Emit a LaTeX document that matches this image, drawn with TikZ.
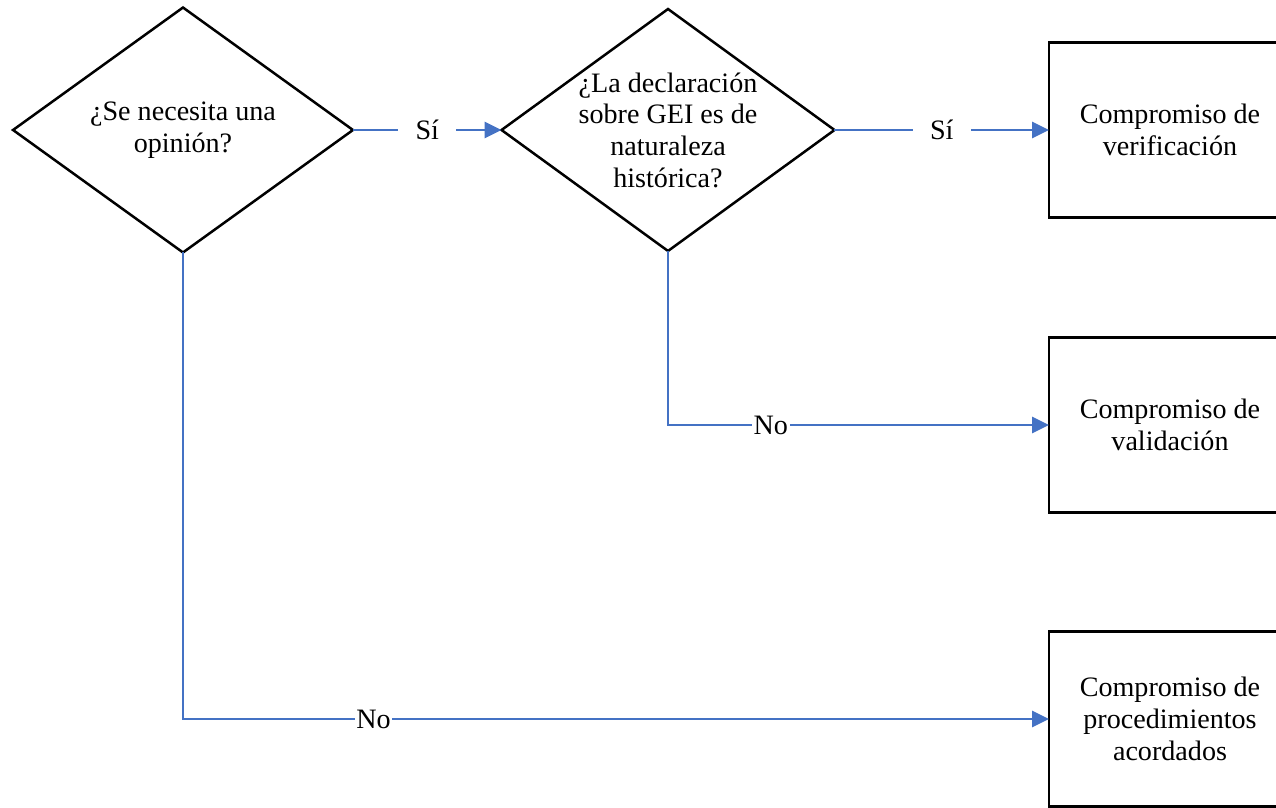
\documentclass[tikz,border=0pt]{standalone}
\usepackage{fontspec}
\setmainfont{Liberation Serif}
\usetikzlibrary{shapes.geometric,arrows.meta}
\definecolor{lineblue}{RGB}{68,114,196}
\begin{document}
\begin{tikzpicture}[x=0.02cm,y=-0.02cm,
	question/.style={diamond,draw,line width=0.05cm,inner sep=0pt,outer sep=0pt,minimum width=6.8cm,minimum height=4.9cm},
	qtext/.style={align=center,font=\fontsize{16}{18}\selectfont},
	outcome/.style={rectangle,draw,line width=0.05cm,outer sep=0pt,minimum width=4.84cm,minimum height=3.5cm,align=center,font=\fontsize{16}{18}\selectfont},
	flow/.style={draw=lineblue,line width=0.055cm,-{Triangle[length=0.34cm,width=0.32cm]}},
	answer/.style={fill=white,inner xsep=1pt,inner ysep=2pt,font=\fontsize{16}{18}\selectfont}]
	\useasboundingbox (0,0) rectangle (1276,808);
	\clip (0,0) rectangle (1276,808);
	% decisions
	\node[question] (opinion) at (183,130) {};
		\node[qtext] (opiniontext) at (183,130) {¿Se necesita una\\opinión?};
	\node[question,minimum width=6.66cm,minimum height=4.84cm] (historic) at (668,130) {};
		\node[qtext] (historictext) at (668,130) {¿La declaración\\sobre GEI es de\\naturaleza\\histórica?};
	% engagements
	\node[outcome] (verif) at (1170,130) {Compromiso de\\verificación};
	\node[outcome] (valid) at (1170,425) {Compromiso de\\validación};
	\node[outcome] (agreed) at (1170,719) {Compromiso de\\procedimientos\\acordados};
	% connectors
	\draw[flow] (opinion.east) -- node[answer,inner xsep=0.35cm] {Sí} (historic.west);
	\draw[flow] (historic.east) -- node[answer,inner xsep=0.35cm] {Sí} (verif.west);
	\draw[flow] (historic.south) |- node[answer,pos=0.635] {No} (valid.west);
	\draw[flow] (opinion.south) |- node[answer,pos=0.61] {No} (agreed.west);
\end{tikzpicture}
\end{document}
